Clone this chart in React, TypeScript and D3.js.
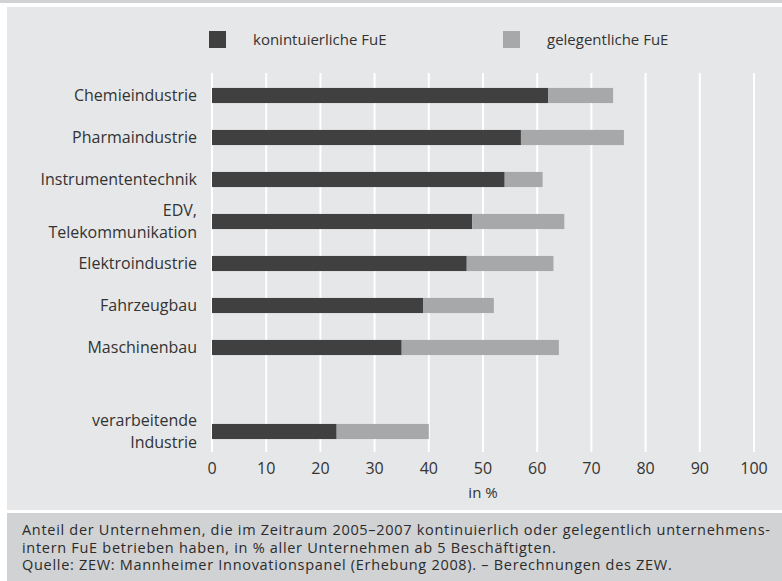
import React, { useEffect, useRef } from "react";
import * as d3 from "d3";

// Branchen (leerer Eintrag = Abstand vor "verarbeitende Industrie")
const categories = [
  "Chemieindustrie",
  "Pharmaindustrie",
  "Instrumententechnik",
  "EDV,|Telekommunikation",
  "Elektroindustrie",
  "Fahrzeugbau",
  "Maschinenbau",
  "",
  "verarbeitende|Industrie",
];
const kontinuierlich = [62, 57, 54, 48, 47, 39, 35, null, 23];
const gelegentlich = [12, 19, 7, 17, 16, 13, 29, null, 17];
const xTicks = [0, 10, 20, 30, 40, 50, 60, 70, 80, 90, 100];
const seriesNames = ["konintuierliche FuE", "gelegentliche FuE"];
const footnote = [
  "Anteil der Unternehmen, die im Zeitraum 2005–2007 kontinuierlich oder gelegentlich unternehmens-",
  "intern FuE betrieben haben, in % aller Unternehmen ab 5 Beschäftigten.",
  "Quelle: ZEW: Mannheimer Innovationspanel (Erhebung 2008). – Berechnungen des ZEW.",
];

const W = 782;
const H = 581;
const font = "'Open Sans', sans-serif";

const App = () => {
  const svgRef = useRef(null);

  useEffect(() => {
    document.body.style.margin = "0";
    const svg = d3.select(svgRef.current);
    svg.selectAll("*").remove();

    const color = d3.scaleOrdinal().domain(seriesNames).range(["#404040", "#a7a8aa"]);

    // hintergrund
    svg.append("rect").attr("x", 0).attr("y", 0).attr("width", W).attr("height", H).attr("fill", "#ffffff");
    svg.append("rect").attr("x", 0).attr("y", 0).attr("width", W).attr("height", 3).attr("fill", "#d1d2d4");
    svg.append("rect").attr("x", 7).attr("y", 7).attr("width", W - 7).attr("height", 503).attr("fill", "#e6e7e8");
    svg.append("rect").attr("x", 7).attr("y", 513).attr("width", W - 7).attr("height", H - 513).attr("fill", "#d1d2d4");

    const x = d3.scaleLinear().domain([0, 100]).range([212, 754]);
    const y = d3
      .scaleBand()
      .domain(categories.map((d, i) => String(i)))
      .range([74.5, 452.5])
      .paddingInner(0.64)
      .paddingOuter(0.32);

    // gitterlinien
    svg
      .append("g")
      .selectAll("line")
      .data(xTicks)
      .enter()
      .append("line")
      .attr("x1", (d) => x(d))
      .attr("x2", (d) => x(d))
      .attr("y1", 73)
      .attr("y2", 452)
      .attr("stroke", "#ffffff")
      .attr("stroke-width", 2);

    // balken
    const rows = categories
      .map((c, i) => ({ i, k: kontinuierlich[i], g: gelegentlich[i] }))
      .filter((d) => d.k !== null);

    svg
      .append("g")
      .selectAll("rect")
      .data(rows)
      .enter()
      .append("rect")
      .attr("x", x(0))
      .attr("y", (d) => y(String(d.i)))
      .attr("width", (d) => x(d.k) - x(0))
      .attr("height", y.bandwidth())
      .attr("fill", color(seriesNames[0]));

    svg
      .append("g")
      .selectAll("rect")
      .data(rows)
      .enter()
      .append("rect")
      .attr("x", (d) => x(d.k))
      .attr("y", (d) => y(String(d.i)))
      .attr("width", (d) => x(d.k + d.g) - x(d.k))
      .attr("height", y.bandwidth())
      .attr("fill", color(seriesNames[1]));

    // kategorienbeschriftung
    const labels = svg
      .append("g")
      .selectAll("text")
      .data(categories)
      .enter()
      .append("text")
      .attr("text-anchor", "end")
      .attr("font-family", font)
      .attr("font-size", 16)
      .attr("fill", "#333333");

    labels.each(function (d, i) {
      const parts = d.split("|");
      const cy = y(String(i)) + y.bandwidth() / 2;
      parts.forEach((p, j) => {
        d3.select(this)
          .append("tspan")
          .attr("x", 197)
          .attr("y", cy + (j - (parts.length - 1) / 2) * 22)
          .attr("dy", "0.35em")
          .text(p);
      });
    });

    // x-achse
    svg
      .append("g")
      .selectAll("text")
      .data(xTicks)
      .enter()
      .append("text")
      .attr("x", (d) => x(d))
      .attr("y", 468)
      .attr("dy", "0.35em")
      .attr("text-anchor", "middle")
      .attr("font-family", font)
      .attr("font-size", 16)
      .attr("fill", "#333333")
      .text((d) => d);

    svg
      .append("text")
      .attr("x", x(50))
      .attr("y", 493)
      .attr("dy", "0.35em")
      .attr("text-anchor", "middle")
      .attr("font-family", font)
      .attr("font-size", 15)
      .attr("fill", "#333333")
      .text("in %");

    // legende
    const legendX = [209, 503];
    svg
      .selectAll("legendbox")
      .data(seriesNames)
      .enter()
      .append("rect")
      .attr("x", (d, i) => legendX[i])
      .attr("y", 31)
      .attr("width", 17)
      .attr("height", 17)
      .attr("fill", (d) => color(d));

    svg
      .selectAll("legendlabel")
      .data(seriesNames)
      .enter()
      .append("text")
      .attr("x", (d, i) => legendX[i] + 44)
      .attr("y", 39.5)
      .attr("dy", "0.35em")
      .attr("font-family", font)
      .attr("font-size", 15)
      .attr("fill", "#333333")
      .text((d) => d);

    // fussnote
    svg
      .append("g")
      .selectAll("text")
      .data(footnote)
      .enter()
      .append("text")
      .attr("x", 22)
      .attr("y", (d, i) => 530 + i * 17.5)
      .attr("dy", "0.35em")
      .attr("font-family", font)
      .attr("font-size", 14.5)
      .attr("letter-spacing", 0.7)
      .attr("fill", "#2b2b2b")
      .text((d) => d);
  }, []);

  return <svg ref={svgRef} width={W} height={H} style={{ display: "block" }} />;
};

export default App;
